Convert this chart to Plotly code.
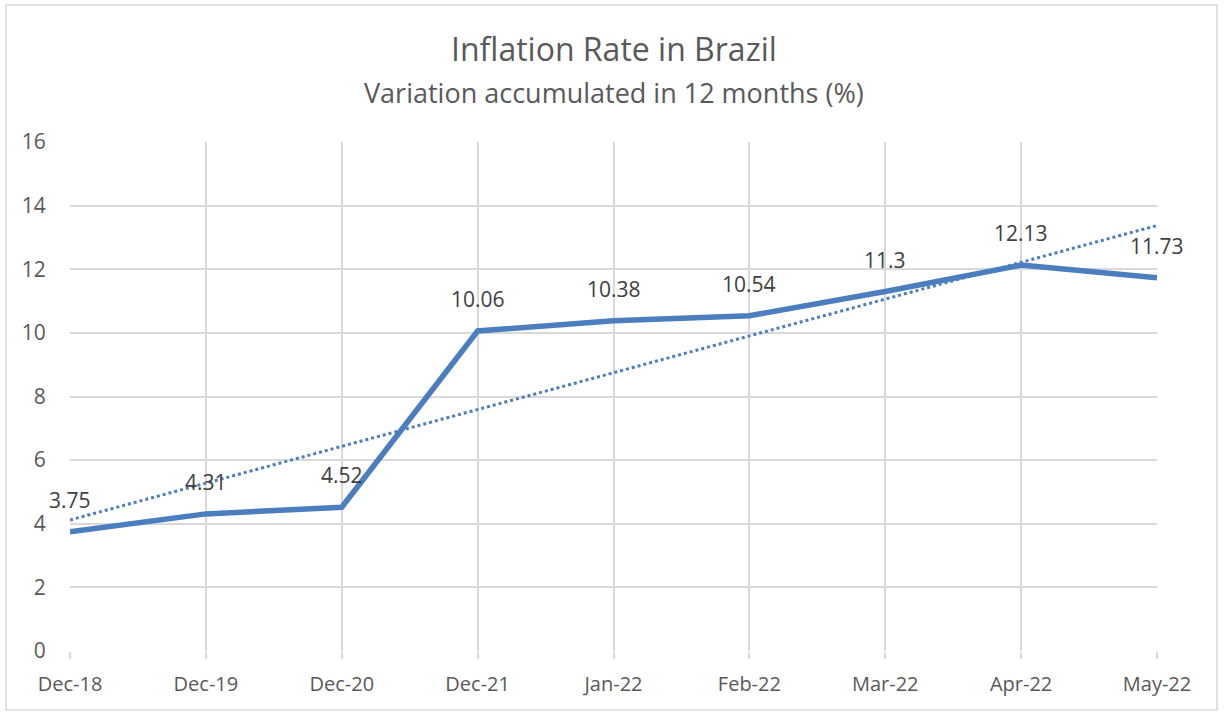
import numpy as np
import plotly.graph_objects as go

categories = ["Dec-18", "Dec-19", "Dec-20", "Dec-21", "Jan-22", "Feb-22", "Mar-22", "Apr-22", "May-22"]
inflation = [3.75, 4.31, 4.52, 10.06, 10.38, 10.54, 11.3, 12.13, 11.73]
y_ticks = [0, 2, 4, 6, 8, 10, 12, 14, 16]

LINE = "#4a7ebf"
GRID = "#d9d9d9"
TXT = "#595959"
FONT = "Open Sans"

idx = np.arange(len(inflation))
slope, intercept = np.polyfit(idx, inflation, 1)
trend = slope * idx + intercept

fig = go.Figure()
fig.add_trace(go.Scatter(x=categories, y=list(trend), mode="lines",
                         line=dict(color=LINE, width=3, dash="dot"),
                         hoverinfo="skip", showlegend=False))
fig.add_trace(go.Scatter(x=categories, y=inflation, mode="lines",
                         line=dict(color=LINE, width=5.5),
                         showlegend=False))

for c, v in zip(categories, inflation):
    fig.add_annotation(x=c, y=v, text=f"{v:g}", showarrow=False, yshift=32,
                       font=dict(family=FONT, size=21, color="#404040"))

fig.add_annotation(xref="paper", yref="paper", x=0.5, y=1.0, yshift=94,
                   text="Inflation Rate in Brazil", showarrow=False,
                   font=dict(family=FONT, size=32, color=TXT), yanchor="middle")
fig.add_annotation(xref="paper", yref="paper", x=0.5, y=1.0, yshift=50,
                   text="Variation accumulated in 12 months (%)", showarrow=False,
                   font=dict(family=FONT, size=27, color=TXT), yanchor="middle")

fig.add_shape(type="rect", xref="paper", yref="paper",
              x0=-0.0589, x1=1.0552, y0=-0.116, y1=1.269,
              line=dict(color="#d9d9d9", width=1.5), fillcolor="rgba(0,0,0,0)", layer="below")

fig.update_layout(
    width=1224, height=713,
    margin=dict(l=70, r=67, t=142, b=62),
    paper_bgcolor="white", plot_bgcolor="white",
    font=dict(family=FONT, color=TXT),
    xaxis=dict(type="category", range=[0, len(categories) - 1],
               showgrid=True, gridcolor=GRID, gridwidth=2,
               ticks="outside", ticklen=7, tickcolor=GRID, tickwidth=2,
               showline=False, zeroline=False,
               tickfont=dict(family=FONT, size=20, color=TXT),
               ticklabelstandoff=8),
    yaxis=dict(range=[0, 16], tickvals=y_ticks,
               showgrid=True, gridcolor=GRID, gridwidth=2,
               zeroline=False, showline=False,
               ticks="outside", ticklen=19, tickcolor="rgba(0,0,0,0)",
               tickfont=dict(family=FONT, size=21, color=TXT)),
)

fig.write_html("out.html", config={"displayModeBar": False},
               post_script="document.body.style.margin='0';document.body.style.overflow='hidden';")
